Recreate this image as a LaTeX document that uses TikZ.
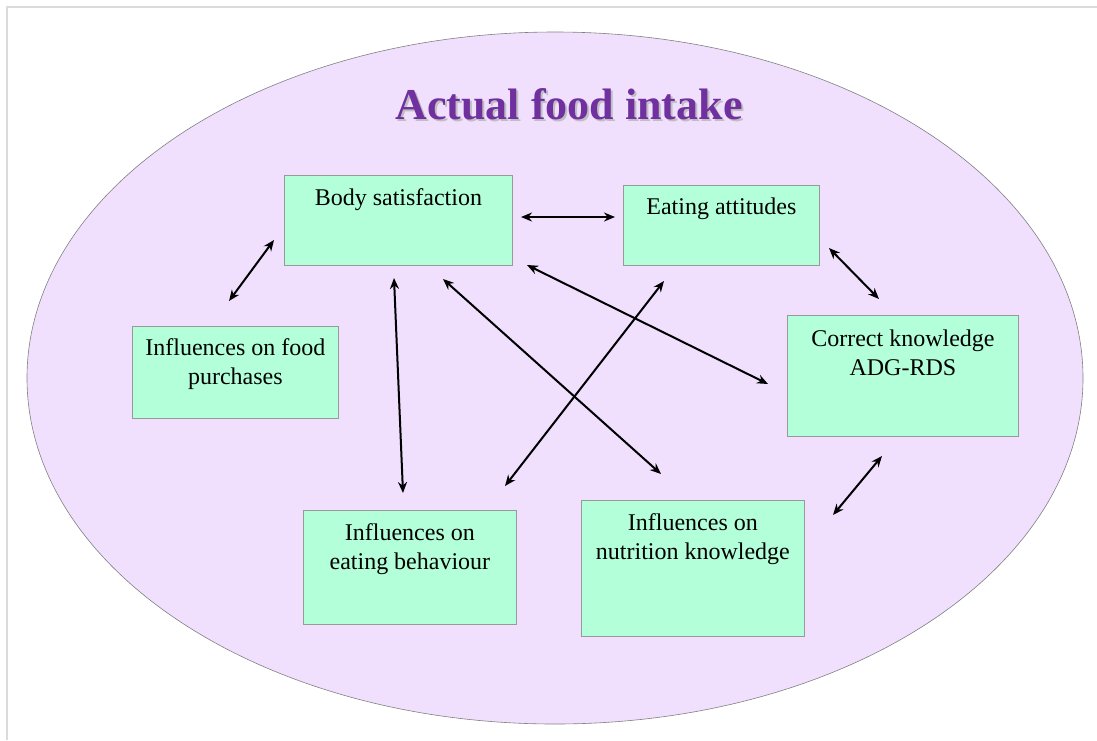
\documentclass[tikz,border=0pt]{standalone}
\usepackage{fontspec}
\setmainfont{Liberation Serif}
\usepackage{tikz}
\usetikzlibrary{arrows.meta,shapes.geometric}

\definecolor{intakefill}{RGB}{240,224,253}
\definecolor{boxfill}{RGB}{179,255,217}
\definecolor{titlepurple}{RGB}{112,48,160}

\tikzset{
	factor/.style={draw=black!40,fill=boxfill,line width=0.8pt,anchor=north west,inner sep=0pt},
	boxtext/.style={anchor=north,yshift=-13pt,inner sep=0pt,align=center,font=\fontsize{24}{29}\selectfont},
	link/.style={{Stealth[length=11pt,width=9pt]}-{Stealth[length=11pt,width=9pt]},line width=2pt}
}

\begin{document}
\begin{tikzpicture}[x=1pt,y=-1pt]
	\useasboundingbox (0,0) rectangle (1097,740);
	\coordinate (f1) at (7,740);
	\coordinate (f2) at (7,7);
	\coordinate (f3) at (1097,7);
	\draw [black!14,line width=1.5pt] (f1) -- (f2) -- (f3);
	%
	\node [ellipse,draw=black!50,fill=intakefill,line width=0.6pt,minimum width=1056pt,minimum height=692pt] (intake) at (555,378) {};
	\node [text=black!25,font=\fontsize{44}{50}\selectfont\bfseries] (titleshadow) at (571,106) {Actual food intake};
	\node [text=titlepurple,font=\fontsize{44}{50}\selectfont\bfseries] (title) at (569,104) {Actual food intake};
	%
	\node [factor,minimum width=228pt,minimum height=90pt,label={[boxtext]north:Body satisfaction}] (bs) at (284,175) {};
	\node [factor,minimum width=196pt,minimum height=80pt,label={[boxtext]north:Eating attitudes}] (ea) at (623,185) {};
	\node [factor,minimum width=206pt,minimum height=92pt,label={[boxtext,yshift=1pt]north:Influences on food\\purchases}] (fp) at (132,326) {};
	\node [factor,minimum width=231pt,minimum height=121pt,label={[boxtext,yshift=-2pt]north:Correct knowledge\\ADG-RDS}] (ck) at (787,315) {};
	\node [factor,minimum width=213pt,minimum height=114pt,label={[boxtext]north:Influences on\\eating behaviour}] (eb) at (303,510) {};
	\node [factor,minimum width=223pt,minimum height=136pt,label={[boxtext]north:Influences on\\nutrition knowledge}] (nk) at (581,500) {};
	%
	\coordinate (a1) at (274,240);
	\coordinate (b1) at (229,301);
	\coordinate (a2) at (521,217);
	\coordinate (b2) at (615,217);
	\coordinate (a3) at (829,248);
	\coordinate (b3) at (879,299);
	\coordinate (a4) at (527,265);
	\coordinate (b4) at (768,384);
	\coordinate (a5) at (394,278);
	\coordinate (b5) at (403,493);
	\coordinate (a6) at (443,279);
	\coordinate (b6) at (661,474);
	\coordinate (a7) at (664,281);
	\coordinate (b7) at (505,486);
	\coordinate (a8) at (882,456);
	\coordinate (b8) at (833,515);
	%
	\foreach \i in {1,...,8}
		\draw [link] (a\i) -- (b\i);
\end{tikzpicture}
\end{document}
